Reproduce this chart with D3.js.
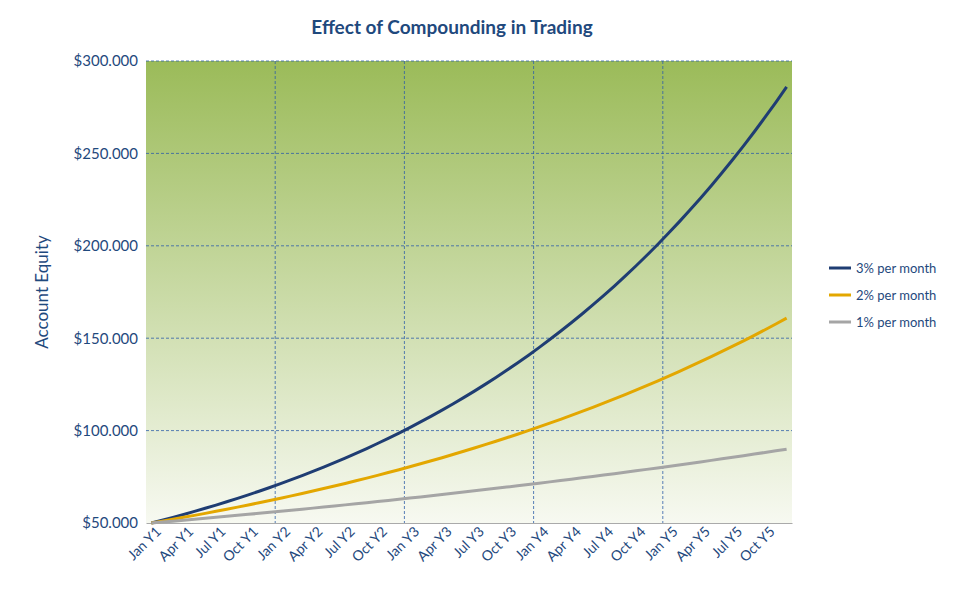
<!DOCTYPE html><html><head><meta charset="utf-8"><script src="https://cdn.jsdelivr.net/npm/d3@7"></script>
<style>body{margin:0;background:#fff}text{font-family:Lato,"Open Sans",sans-serif}</style></head><body><svg id="c" width="956" height="591"></svg>
<script>
const years=["Y1","Y2","Y3","Y4","Y5"];
const months=["Jan","Feb","Mar","Apr","May","Jun","Jul","Aug","Sep","Oct","Nov","Dec"];
const categories=[];years.forEach(y=>months.forEach(m=>categories.push(m+" "+y)));
const s3=[50000,51500,53045,54636,56275,57964,59703,61494,63339,65239,67196,69212,71288,73427,75629,77898,80235,82642,85122,87675,90306,93015,95805,98679,101640,104689,107830,111064,114396,117828,121363,125004,128754,132617,136595,140693,144914,149261,153739,158351,163102,167995,173035,178226,183573,189080,194752,200595,206613,212811,219196,225771,232544,239521,246706,254108,261731,269583,277670,286000];
const s2=[50000,51000,52020,53060,54122,55204,56308,57434,58583,59755,60950,62169,63412,64680,65974,67293,68639,70012,71412,72841,74297,75783,77299,78845,80422,82030,83671,85344,87051,88792,90568,92379,94227,96111,98034,99994,101994,104034,106115,108237,110402,112610,114862,117159,119503,121893,124331,126817,129354,131941,134580,137271,140017,142817,145673,148587,151558,154589,157681,160835];
const s1=[50000,50500,51005,51515,52030,52551,53076,53607,54143,54684,55231,55783,56341,56905,57474,58048,58629,59215,59807,60405,61010,61620,62236,62858,63487,64122,64763,65410,66065,66725,67392,68066,68747,69435,70129,70830,71538,72254,72976,73706,74443,75188,75940,76699,77466,78241,79023,79813,80611,81418,82232,83054,83885,84724,85571,86427,87291,88164,89045,89936];
const yTicks=[50000,100000,150000,200000,250000,300000];
const seriesNames=["3% per month","2% per month","1% per month"];
const series=[s3,s2,s1];
const colors=["#1f3d73","#e3a700","#a5a5a5"];
const L=146,R=792,T=61,B=523;
const svg=d3.select("#c");
const defs=svg.append("defs");
const g=defs.append("linearGradient").attr("id","bg").attr("x1",0).attr("x2",0).attr("y1",0).attr("y2",1);
g.append("stop").attr("offset","0%").attr("stop-color","#9bbb59");
g.append("stop").attr("offset","100%").attr("stop-color","#f7f9f1");
const x=d3.scaleBand().domain(categories).range([L,R]);
const y=d3.scaleLinear().domain([50000,300000]).range([B,T]);
svg.append("rect").attr("x",L).attr("y",T).attr("width",R-L).attr("height",B-T).attr("fill","url(#bg)");
svg.append("g").selectAll("line").data(yTicks.slice(1)).join("line").attr("x1",L).attr("x2",R).attr("y1",d=>y(d)).attr("y2",d=>y(d)).attr("stroke","#2e5fa8").attr("stroke-width",0.8).attr("stroke-dasharray","3,2");
svg.append("g").selectAll("line").data(["Jan Y2","Jan Y3","Jan Y4","Jan Y5"]).join("line").attr("x1",d=>x(d)).attr("x2",d=>x(d)).attr("y1",T).attr("y2",B).attr("stroke","#2e5fa8").attr("stroke-width",0.8).attr("stroke-dasharray","3,2");
const fmt=d=>"$"+d3.format(",")(d).replace(/,/g,".");
const ya=svg.append("g").attr("transform",`translate(${L},0)`).call(d3.axisLeft(y).tickValues(yTicks).tickFormat(fmt).tickSize(0).tickPadding(8));
ya.select(".domain").remove();
ya.selectAll("text").attr("font-size",15).attr("fill","#1f497d");
const xa=svg.append("g").attr("transform",`translate(0,${B})`).call(d3.axisBottom(x).tickValues(categories.filter((d,i)=>i%3===0)).tickSize(0).tickFormat(d=>d));
xa.select(".domain").attr("stroke","#aaa");
xa.selectAll("text").attr("font-size",14).attr("fill","#1f497d").attr("text-anchor","end").attr("transform","translate(5,4) rotate(-45)").attr("dy","0.35em");
const line=d3.line().x((d,i)=>x(categories[i])+x.bandwidth()/2).y(d=>y(d));
series.forEach((s,k)=>svg.append("path").datum(s).attr("d",line).attr("fill","none").attr("stroke",colors[k]).attr("stroke-width",3));
svg.append("text").attr("x",452).attr("y",34).attr("text-anchor","middle").attr("font-size",19).attr("font-weight","bold").attr("fill","#1f497d").text("Effect of Compounding in Trading");
svg.append("text").attr("transform","translate(48,292) rotate(-90)").attr("text-anchor","middle").attr("font-size",17).attr("fill","#1f497d").text("Account Equity");
const lg=svg.append("g").selectAll("g").data(seriesNames).join("g").attr("transform",(d,i)=>`translate(829,${268+i*27})`);
lg.append("line").attr("x1",0).attr("x2",22).attr("stroke",(d,i)=>colors[i]).attr("stroke-width",3);
lg.append("text").attr("x",27).attr("dy","0.35em").attr("font-size",13).attr("fill","#1f497d").text(d=>d);
</script></body></html>
